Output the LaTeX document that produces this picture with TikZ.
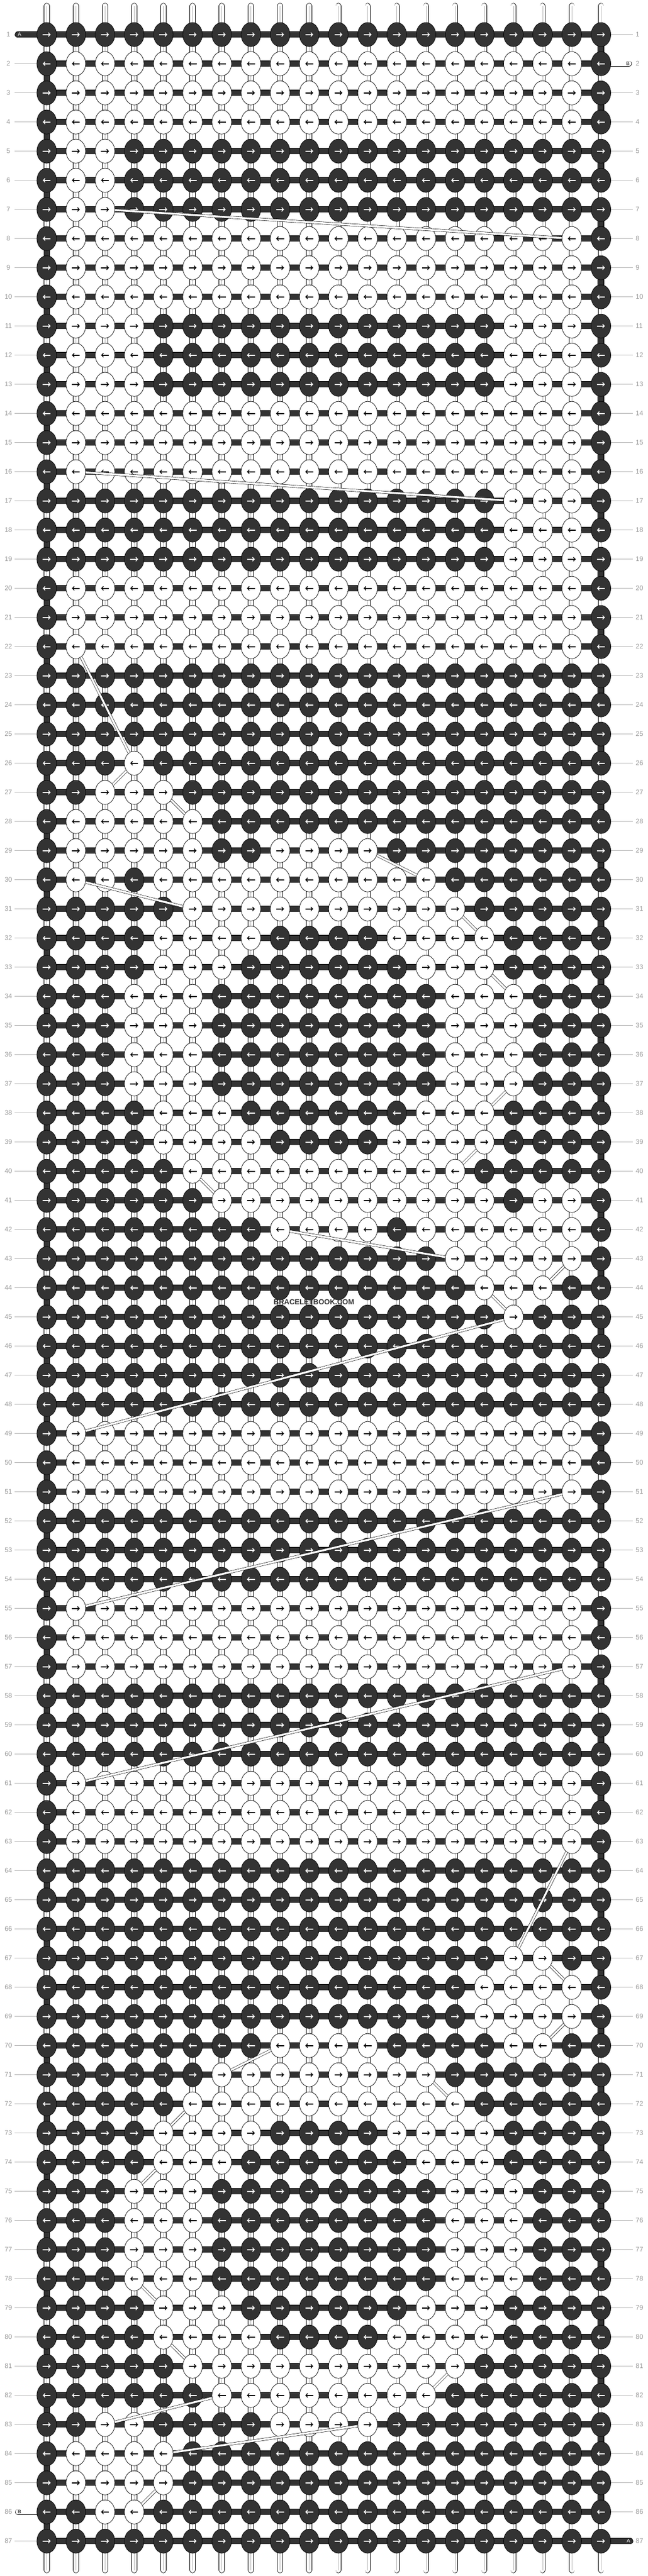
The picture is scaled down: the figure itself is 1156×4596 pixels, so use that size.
\documentclass[tikz,border=0pt]{standalone}
\usepackage{fontspec}
\setmainfont{Liberation Sans}
\usepackage{xcolor}
\usepackage{tikz}
\usetikzlibrary{shapes.geometric}
\usetikzlibrary{arrows}

\definecolor{knotdark}{HTML}{333333}
\definecolor{rulegray}{HTML}{B4B4B4}
\definecolor{numgray}{HTML}{999999}

\pgfdeclarelayer{background}
\pgfsetlayers{background,main}

\tikzset{
  knot/.style={ellipse, draw=black, line width=0.7pt, minimum width=35pt, minimum height=43pt, inner sep=0pt},
  dark knot/.style={knot, fill=knotdark},
  light knot/.style={knot, fill=white},
  knot arrow/.style={->, line width=1.8pt},
  weft/.style={draw=black, line width=0.7pt, double=knotdark, double distance=10pt},
  warp/.style={draw=black, line width=0.7pt, double=white, double distance=9pt, line cap=round},
  warp core/.style={draw=rulegray, line width=0.6pt},
  carry/.style={draw=black, line width=0.6pt, double=white, double distance=3.5pt},
  guide/.style={draw=rulegray, line width=0.8pt},
  rowno/.style={text=numgray, font=\fontsize{12}{12}\selectfont, inner sep=0pt},
  stubletter/.style={font=\fontsize{9}{9}\selectfont, inner sep=0pt},
}

% one knot: #1 = 1 (dark) or 0 (light), row in \knotr, column in \knotcol
\newcount\knotcol
\newcommand\knotput[1]{%
  \pgfmathsetmacro\kx{83.3+52.04*(\the\knotcol-1)}%
  \pgfmathsetmacro\ky{61.7+52*(\knotr-1)}%
  \ifnum#1=1\relax
    \node[dark knot] (k-\knotr-\the\knotcol) at (\kx,\ky) {};
    \def\arrcol{white}%
  \else
    \node[light knot] (k-\knotr-\the\knotcol) at (\kx,\ky) {};
    \def\arrcol{black}%
  \fi
  \ifodd\knotr\relax
    \draw[knot arrow, \arrcol] (\kx-7,\ky) -- (\kx+7,\ky);
  \else
    \draw[knot arrow, \arrcol] (\kx+7,\ky) -- (\kx-7,\ky);
  \fi}
\def\knotscan#1{\ifx\relax#1\else\global\advance\knotcol by 1\relax\knotput{#1}\expandafter\knotscan\fi}
\newcommand\knotrow[2]{\def\knotr{#1}\global\knotcol=0\relax\knotscan#2\relax}

\begin{document}
\begin{tikzpicture}[x=1pt, y=-1pt]
    \useasboundingbox (0,0) rectangle (1156,4596);

    % Knots, row by row
    \knotrow{1}{11111111111111111111}
    \knotrow{2}{10000000000000000001}
    \knotrow{3}{10000000000000000001}
    \knotrow{4}{10000000000000000001}
    \knotrow{5}{10011111111111111111}
    \knotrow{6}{10011111111111111111}
    \knotrow{7}{10011111111111111111}
    \knotrow{8}{10000000000000000001}
    \knotrow{9}{10000000000000000001}
    \knotrow{10}{10000000000000000001}
    \knotrow{11}{10001111111111110001}
    \knotrow{12}{10001111111111110001}
    \knotrow{13}{10001111111111110001}
    \knotrow{14}{10000000000000000001}
    \knotrow{15}{10000000000000000001}
    \knotrow{16}{10000000000000000001}
    \knotrow{17}{11111111111111110001}
    \knotrow{18}{11111111111111110001}
    \knotrow{19}{11111111111111110001}
    \knotrow{20}{10000000000000000001}
    \knotrow{21}{10000000000000000001}
    \knotrow{22}{10000000000000000001}
    \knotrow{23}{11111111111111111111}
    \knotrow{24}{11111111111111111111}
    \knotrow{25}{11111111111111111111}
    \knotrow{26}{11101111111111111111}
    \knotrow{27}{11000111111111111111}
    \knotrow{28}{10000011111111111111}
    \knotrow{29}{10000011000011111111}
    \knotrow{30}{10010000000000111111}
    \knotrow{31}{11111000000000011111}
    \knotrow{32}{11110000111100001111}
    \knotrow{33}{11110001111110001111}
    \knotrow{34}{11100011111111000111}
    \knotrow{35}{11100011111111000111}
    \knotrow{36}{11100011111111000111}
    \knotrow{37}{11100011111111000111}
    \knotrow{38}{11110001111110001111}
    \knotrow{39}{11110000111100001111}
    \knotrow{40}{11111000000000011111}
    \knotrow{41}{11111100000000001001}
    \knotrow{42}{11111111000010000001}
    \knotrow{43}{11111111111111000001}
    \knotrow{44}{11111111111111100011}
    \knotrow{45}{11111111111111110111}
    \knotrow{46}{11111111111111111111}
    \knotrow{47}{11111111111111111111}
    \knotrow{48}{11111111111111111111}
    \knotrow{49}{10000000000000000001}
    \knotrow{50}{10000000000000000001}
    \knotrow{51}{10000000000000000001}
    \knotrow{52}{11111111111111111111}
    \knotrow{53}{11111111111111111111}
    \knotrow{54}{11111111111111111111}
    \knotrow{55}{10000000000000000001}
    \knotrow{56}{10000000000000000001}
    \knotrow{57}{10000000000000000001}
    \knotrow{58}{11111111111111111111}
    \knotrow{59}{11111111111111111111}
    \knotrow{60}{11111111111111111111}
    \knotrow{61}{10000000000000000001}
    \knotrow{62}{10000000000000000001}
    \knotrow{63}{10000000000000000001}
    \knotrow{64}{11111111111111111111}
    \knotrow{65}{11111111111111111111}
    \knotrow{66}{11111111111111111111}
    \knotrow{67}{11111111111111110011}
    \knotrow{68}{11111111111111100001}
    \knotrow{69}{11111111111111100001}
    \knotrow{70}{11111111000011110011}
    \knotrow{71}{11111100000000111111}
    \knotrow{72}{11111000000000011111}
    \knotrow{73}{11110000111100001111}
    \knotrow{74}{11110001111110001111}
    \knotrow{75}{11100011111111000111}
    \knotrow{76}{11100011111111000111}
    \knotrow{77}{11100011111111000111}
    \knotrow{78}{11100011111111000111}
    \knotrow{79}{11110001111110001111}
    \knotrow{80}{11110000111100001111}
    \knotrow{81}{11111000000000011111}
    \knotrow{82}{11111100000000111111}
    \knotrow{83}{11001111000011111111}
    \knotrow{84}{10000111111111111111}
    \knotrow{85}{10000111111111111111}
    \knotrow{86}{11001111111111111111}
    \knotrow{87}{11111111111111111111}

    \begin{pgfonlayer}{background}
    \fill[white] (0,0) rectangle (1156,4596);
    % Warp strands, top to bottom
    \foreach \c in {1,...,20} {
        \path (k-1-\c.center) +(0,-51.2) coordinate (wt-\c);
        \path (k-87-\c.center) +(0,51.8) coordinate (wb-\c);
        \draw[warp] (wt-\c) -- (wb-\c);
        \draw[warp core] (wt-\c) -- (wb-\c);
    }
    % Weft bars between the knots
    \foreach \r in {1,...,87}
        \draw[weft] (k-\r-1.center) -- (k-\r-20.center);
    % Weft turning at the edges
    \foreach \r [evaluate=\r as \s using int(\r+1)] in {2,4,...,86}
        \draw[weft] (k-\r-1.center) -- (k-\s-1.center);
    \foreach \r [evaluate=\r as \s using int(\r+1)] in {1,3,...,85}
        \draw[weft] (k-\r-20.center) -- (k-\s-20.center);

    % Loose ends A and B
    \coordinate (A top) at (32,61.7);
    \draw[weft, line cap=round] (A top) -- (k-1-1.center);
    \coordinate (B top) at (1122,113.7);
    \draw[warp] (k-2-20.center) -- (B top);
    \coordinate (B end) at (32,4481.7);
    \draw[warp] (B end) -- (k-86-1.center);
    \coordinate (A end) at (1124,4533.7);
    \draw[weft, line cap=round] (k-87-20.center) -- (A end);
    \end{pgfonlayer}

    \node[stubletter, text=white] (A top label) at (35,61.7) {A};
    \node[stubletter] (B top label) at (1120,113.7) {B};
    \node[stubletter] (B end label) at (35,4481.7) {B};
    \node[stubletter, text=white] (A end label) at (1121,4533.7) {A};

    % Row numbers and guide lines
    \foreach \r in {1,...,87} {
        \node[rowno] (ln-\r) at (15,{61.7+52*(\r-1)}) {\r};
        \node[rowno, anchor=west] (rn-\r) at (1134,{61.7+52*(\r-1)}) {\r};
    }
    \foreach \r in {2,...,85,87}
        \draw[guide] (k-\r-1.west) -- +(-39,0);
    \foreach \r in {1,3,4,...,86}
        \draw[guide] (k-\r-20.east) -- +(39,0);

    % Carried strands
    \foreach \a/\b in {7-3/8-19, 16-2/17-17, 22-2/26-4, 26-4/27-3, 27-5/28-6,
        29-12/30-14, 30-2/31-6, 31-15/32-16, 33-16/34-17, 37-17/38-16,
        39-16/40-15, 40-6/41-7, 42-9/43-15, 43-19/44-18, 44-16/45-17,
        45-17/49-2, 51-19/55-2, 57-19/61-2, 63-19/67-17, 67-18/68-19,
        69-19/70-18, 70-9/71-7, 71-14/72-15, 72-6/73-5, 74-5/75-4,
        78-4/79-5, 80-5/81-6, 81-15/82-14, 82-7/83-3, 83-12/84-5, 85-5/86-4}
        \draw[carry] (k-\a) -- (k-\b);

    % Watermark
    \node[font=\bfseries\fontsize{13}{13}\selectfont, text=knotdark] (mark) at (560,2323) {BRACELETBOOK.COM};
\end{tikzpicture}
\end{document}
